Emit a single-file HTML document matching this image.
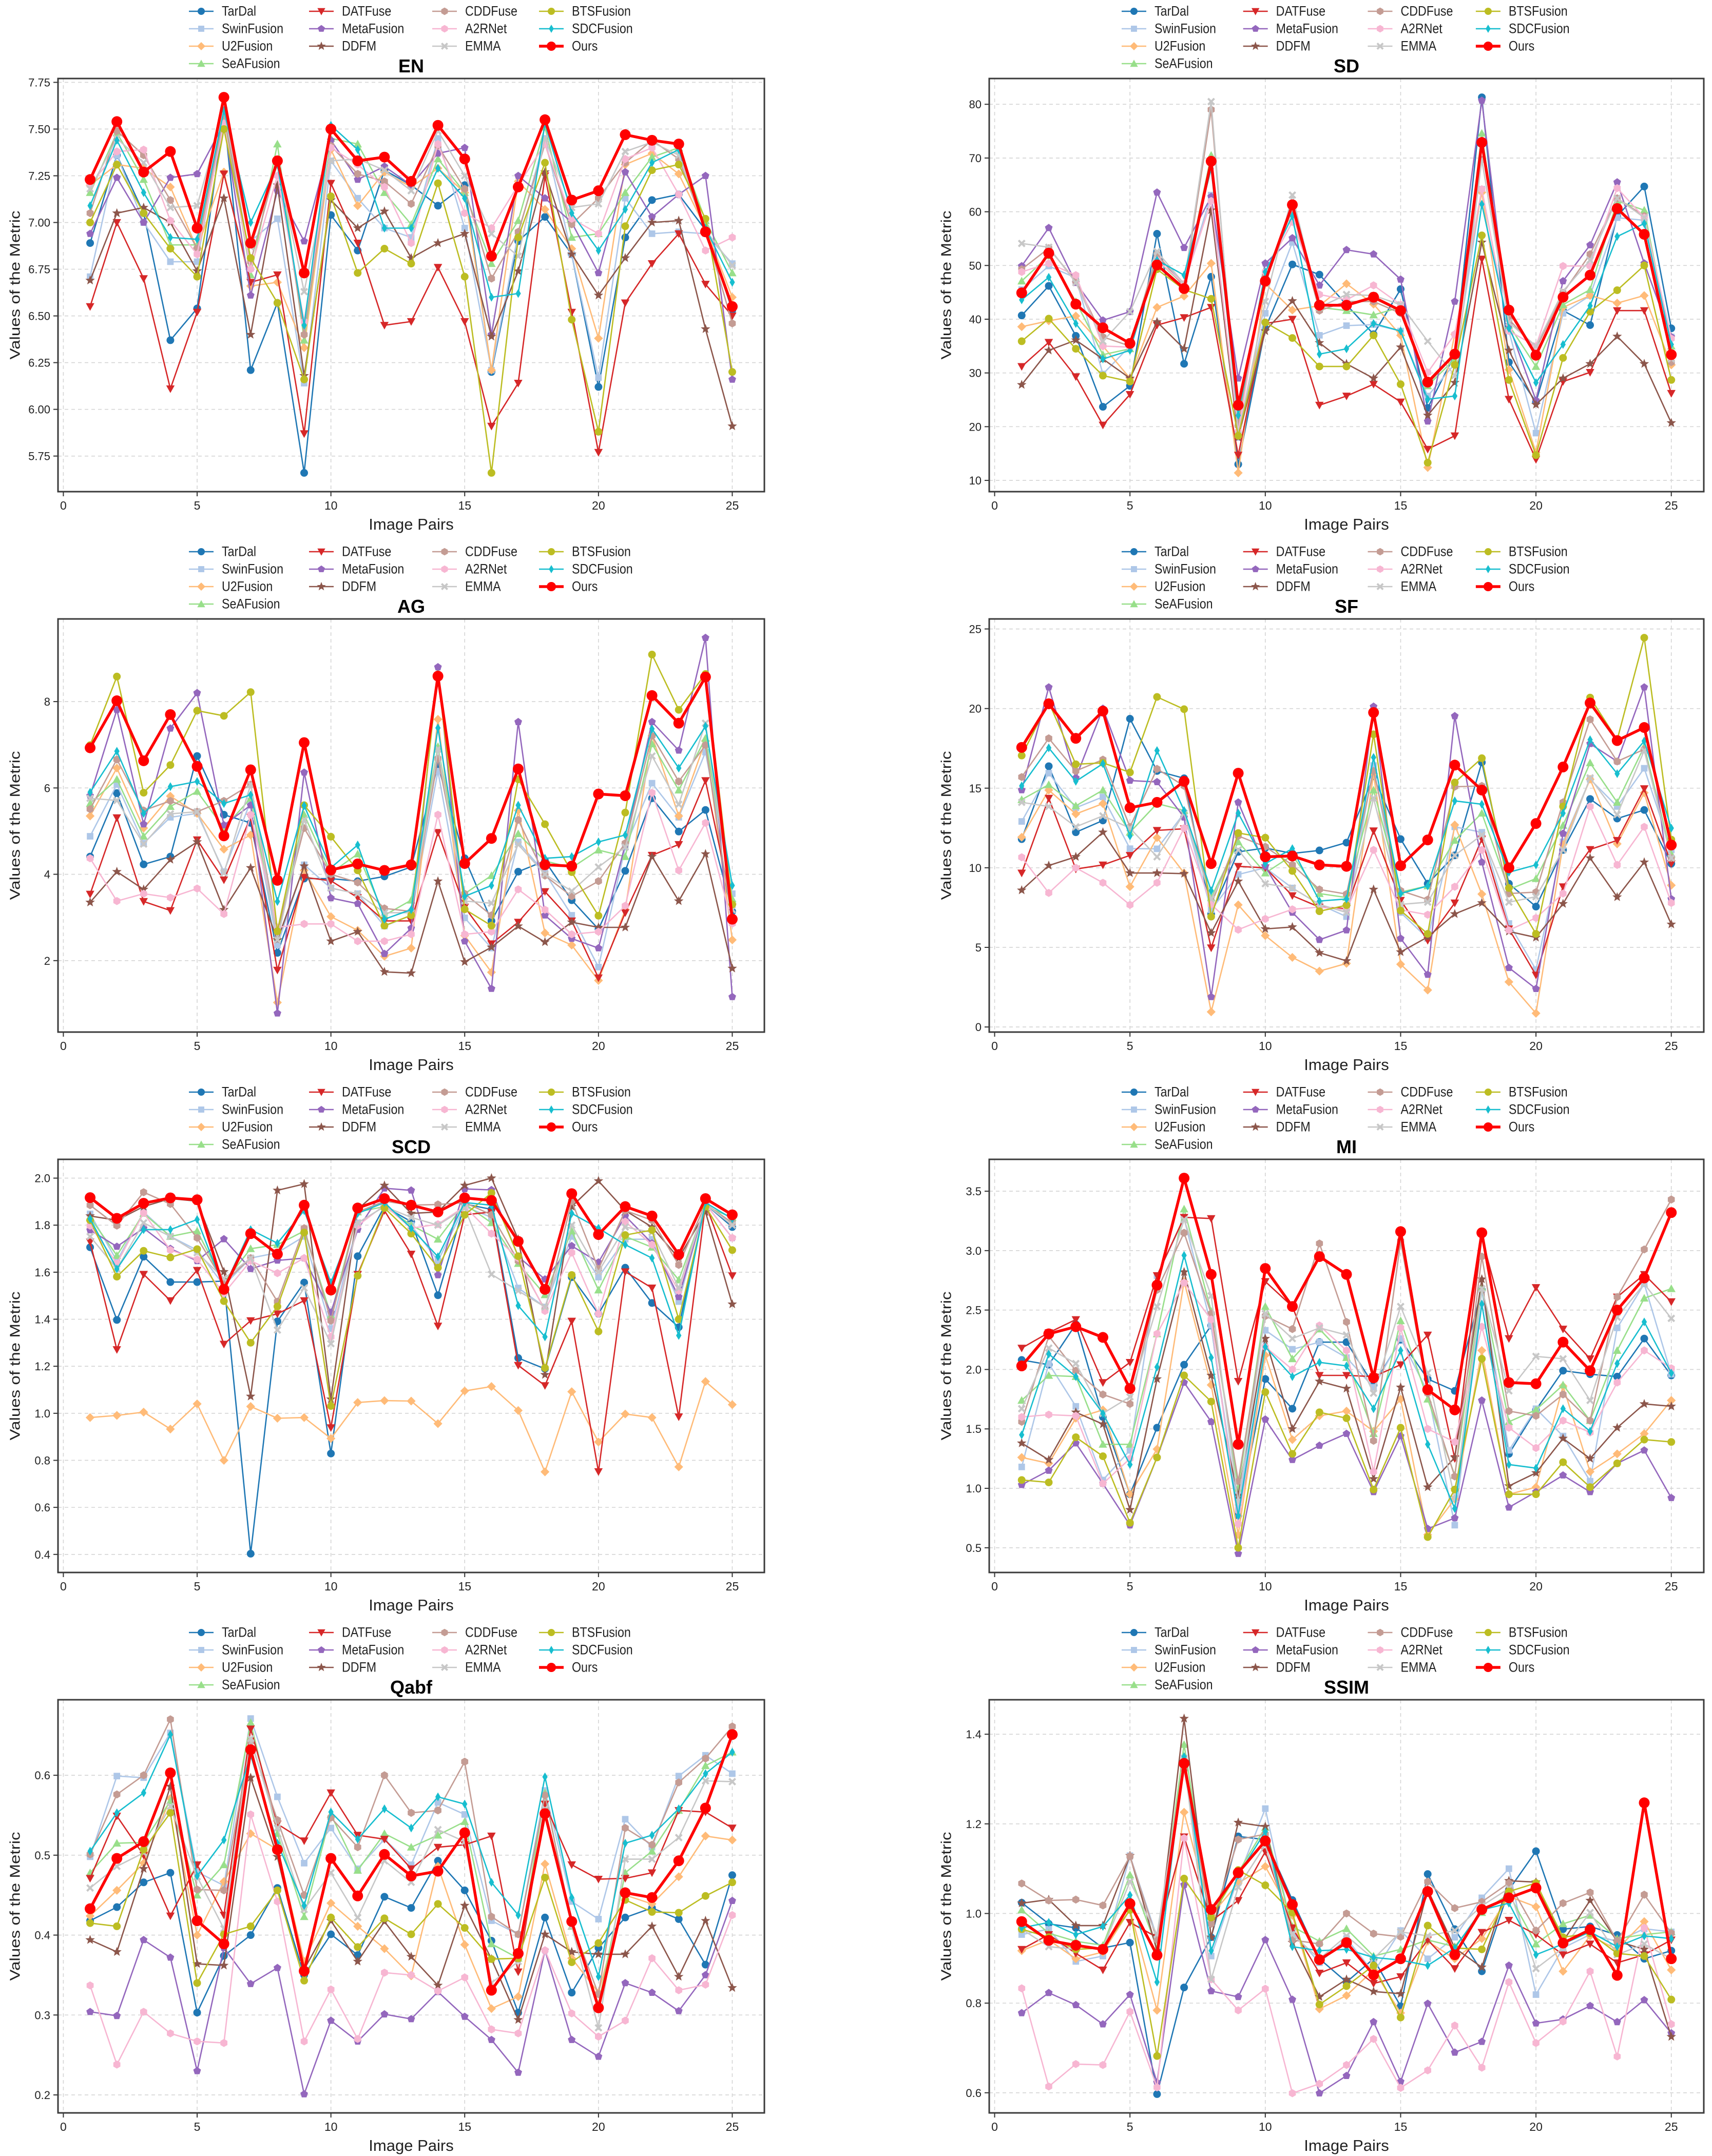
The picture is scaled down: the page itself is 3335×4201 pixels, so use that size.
<!DOCTYPE html>
<html><head><meta charset="utf-8"><title>Metric comparison</title>
<style>
html,body{margin:0;padding:0;background:#fff;}
svg{display:block;font-family:"Liberation Sans",sans-serif;}
</style></head>
<body>
<svg id="fig" width="3335" height="4201" viewBox="0 0 3335 4201" xmlns="http://www.w3.org/2000/svg">
<rect x="0" y="0" width="3335" height="4201" fill="#ffffff"/>
</svg>
<script>
const imagePairs = [1,2,3,4,5,6,7,8,9,10,11,12,13,14,15,16,17,18,19,20,21,22,23,24,25];
const methods = ['TarDal','SwinFusion','U2Fusion','SeAFusion','DATFuse','MetaFusion','DDFM','CDDFuse','A2RNet','EMMA','BTSFusion','SDCFusion','Ours'];
const xTicks = [0,5,10,15,20,25];

const enTicks = [5.75,6.00,6.25,6.50,6.75,7.00,7.25,7.50,7.75];
const enValues = [
[6.89,7.36,7.05,6.37,6.54,7.58,6.21,6.57,5.66,7.04,6.85,7.28,7.20,7.09,7.20,6.20,6.90,7.03,6.83,6.12,6.92,7.12,7.15,6.96,6.53],
[6.71,7.36,7.00,6.79,6.79,7.57,6.90,7.02,6.14,7.33,7.13,6.97,6.92,7.45,6.97,6.21,6.94,7.45,6.83,6.17,7.13,6.94,6.95,6.94,6.78],
[7.20,7.31,7.29,7.19,6.86,7.27,6.66,6.68,6.33,7.39,7.09,7.27,7.19,7.29,7.16,6.21,7.22,7.07,6.86,6.38,7.31,7.37,7.26,6.97,6.60],
[7.16,7.48,7.23,6.88,6.88,7.57,6.72,7.42,6.37,7.45,7.42,7.16,6.99,7.34,7.16,6.78,7.01,7.51,6.92,6.94,7.16,7.35,7.40,7.01,6.73],
[6.55,7.00,6.70,6.11,6.52,7.26,6.68,6.72,5.87,7.21,6.89,6.45,6.47,6.76,6.47,5.91,6.14,7.25,6.52,5.77,6.57,6.78,6.94,6.67,6.50],
[6.94,7.24,7.00,7.24,7.26,7.53,6.61,7.17,6.90,7.44,7.23,7.30,7.20,7.37,7.40,6.40,7.25,7.13,7.00,6.73,7.27,7.03,7.15,7.25,6.16],
[6.69,7.05,7.08,7.00,6.74,7.13,6.40,7.20,6.18,7.12,6.97,7.06,6.81,6.89,6.94,6.39,6.74,7.27,6.83,6.61,6.81,7.00,7.01,6.43,5.91],
[7.05,7.49,7.36,7.12,6.86,7.58,6.79,7.33,6.40,7.41,7.26,7.22,7.10,7.41,7.18,6.70,6.95,7.42,6.99,7.13,7.32,7.44,7.34,6.96,6.46],
[7.20,7.38,7.39,7.01,6.83,7.53,6.75,7.25,6.47,7.40,7.31,7.19,6.89,7.42,7.05,6.97,7.20,7.42,7.02,6.94,7.34,7.40,7.15,6.85,6.92],
[7.18,7.45,7.32,7.08,7.09,7.60,6.87,7.31,6.63,7.33,7.34,7.28,7.17,7.49,7.25,6.94,6.82,7.45,7.08,7.10,7.38,7.43,7.36,6.96,6.77],
[7.00,7.31,7.05,6.86,6.71,7.50,6.81,6.57,6.16,7.14,6.73,6.86,6.78,7.21,6.71,5.66,6.92,7.32,6.48,5.88,6.98,7.28,7.31,7.02,6.20],
[7.09,7.44,7.16,6.92,6.91,7.60,7.00,7.31,6.45,7.52,7.39,6.97,6.97,7.29,7.13,6.60,6.62,7.53,7.05,6.85,7.07,7.32,7.39,6.97,6.68],
[7.23,7.54,7.27,7.38,6.97,7.67,6.89,7.33,6.73,7.50,7.33,7.35,7.22,7.52,7.34,6.82,7.19,7.55,7.12,7.17,7.47,7.44,7.42,6.95,6.55]
];

const sdTicks = [10,20,30,40,50,60,70,80];
const sdValues = [
[40.7,46.2,36.9,23.7,27.6,55.9,31.7,47.9,13.0,38.3,50.2,48.3,42.7,37.2,45.6,23.5,33.4,81.3,32.0,24.6,41.6,38.9,59.2,64.7,38.3],
[45.5,49.9,47.7,29.8,35.0,51.8,46.6,63.1,18.0,41.1,54.3,37.0,38.8,39.0,37.8,25.7,31.7,64.2,37.8,18.8,41.1,44.4,58.9,58.4,36.7],
[38.6,39.7,40.6,35.0,29.0,42.2,44.3,50.4,11.4,46.6,41.7,42.5,46.6,42.8,37.0,12.4,37.2,63.6,30.6,15.2,42.2,44.4,43.0,44.4,31.5],
[47.1,51.8,43.3,33.4,34.5,51.0,46.3,70.5,20.7,48.2,60.3,42.2,41.6,40.8,42.2,27.6,32.6,74.6,38.9,31.2,42.7,45.5,62.0,60.3,35.0],
[31.2,35.7,29.3,20.3,26.0,38.9,40.3,42.2,14.7,39.2,40.0,24.0,25.7,27.9,24.6,15.8,18.3,51.2,25.1,13.9,28.4,30.1,41.6,41.6,26.2],
[49.9,57.0,46.8,39.8,41.4,63.6,53.3,62.8,29.0,50.4,55.1,46.3,52.9,52.1,47.4,21.0,43.3,80.7,38.9,24.9,47.1,53.8,65.5,50.4,36.7],
[27.8,34.2,36.1,32.6,29.0,39.5,34.5,60.3,18.0,37.8,43.4,35.6,31.7,29.0,34.8,22.1,28.2,54.3,34.2,24.1,29.0,31.7,36.8,31.7,20.7],
[49.3,53.2,47.1,36.7,35.0,52.1,46.0,79.0,20.2,48.2,60.3,41.6,43.3,43.3,41.1,27.9,33.4,69.7,40.0,34.5,44.9,52.1,62.5,59.2,32.0],
[48.8,50.4,48.2,35.0,34.8,51.0,46.6,62.0,19.1,48.8,58.1,44.6,43.6,46.3,42.7,30.1,37.2,64.2,37.8,35.0,49.9,49.9,64.4,58.9,36.4],
[54.1,53.4,46.8,35.9,41.4,52.6,46.6,80.5,18.5,43.3,63.1,42.2,44.6,44.4,42.7,35.9,29.5,69.7,39.4,35.0,45.2,51.0,62.5,58.9,32.6],
[35.9,40.1,34.5,29.5,28.4,49.3,45.5,43.8,18.3,39.4,36.5,31.2,31.2,37.0,27.9,13.3,31.5,55.6,28.7,14.7,32.8,41.4,45.4,50.0,28.7],
[43.6,47.8,39.2,32.6,34.2,51.0,48.2,68.0,22.1,48.8,59.2,33.5,34.5,39.2,37.8,25.1,25.7,61.4,38.3,28.2,35.3,42.5,55.4,57.8,35.3],
[44.9,52.3,42.8,38.4,35.5,50.1,45.7,69.4,24.0,47.1,61.3,42.6,42.6,44.1,41.6,28.3,33.5,72.9,41.7,33.3,44.1,48.2,60.6,55.8,33.4]
];

const agTicks = [2,4,6,8];
const agValues = [
[4.41,5.88,4.23,4.41,6.74,5.38,5.19,2.18,3.90,3.90,3.84,3.95,4.17,6.52,4.37,2.92,4.06,4.31,3.40,2.73,4.08,5.76,4.99,5.49,3.14],
[4.88,6.08,4.72,5.32,5.41,4.06,5.70,2.36,4.22,3.68,3.55,2.80,3.05,6.39,2.99,2.29,4.75,4.03,3.05,1.85,4.63,6.11,5.32,6.83,3.55],
[5.35,6.46,5.07,5.81,5.41,4.58,4.91,1.03,4.09,3.02,2.70,2.10,2.29,7.59,2.58,1.73,5.48,2.64,2.36,1.54,3.18,7.21,5.35,7.09,2.48],
[5.64,6.20,4.88,5.57,5.92,5.07,5.76,2.55,5.38,4.03,4.47,3.05,3.40,6.96,3.55,3.97,4.94,4.31,4.15,4.56,4.41,7.02,5.95,7.15,3.43],
[3.54,5.31,3.37,3.16,4.80,3.87,5.32,1.78,3.93,3.85,3.46,2.92,2.92,4.97,3.24,2.39,2.89,3.60,2.92,1.60,3.11,4.44,4.69,6.17,3.24],
[5.82,7.81,5.16,7.38,8.20,5.14,5.60,0.78,6.36,3.45,3.32,2.16,2.75,8.80,2.45,1.35,7.53,3.05,2.51,2.29,4.69,7.53,6.87,9.48,1.16],
[3.35,4.06,3.65,4.34,4.75,3.18,4.15,2.48,4.19,2.45,2.67,1.74,1.71,3.84,1.97,2.31,2.80,2.43,2.89,2.77,2.77,4.41,3.38,4.47,1.82],
[5.51,6.66,5.48,5.70,5.45,5.70,6.08,2.67,5.07,4.00,3.81,3.21,3.14,6.68,3.55,3.05,5.26,3.97,3.49,3.84,4.72,7.21,6.15,6.99,2.86],
[4.37,3.38,3.55,3.46,3.67,3.08,5.38,2.77,2.85,2.85,2.45,2.45,2.61,5.38,2.61,2.67,3.65,3.18,2.61,2.67,3.27,5.89,4.09,5.19,2.86],
[5.76,5.71,4.70,5.40,5.45,4.03,6.08,2.48,5.26,3.68,3.55,3.11,3.11,6.90,3.38,3.33,4.69,4.00,3.61,4.17,4.63,6.74,5.62,7.50,3.18],
[6.99,8.58,5.89,6.53,7.79,7.67,8.22,2.68,5.60,4.87,4.09,2.81,3.05,8.63,3.19,2.81,6.20,5.16,4.05,3.04,5.43,9.09,7.81,8.64,3.30],
[5.90,6.85,5.41,6.03,6.15,5.64,5.84,3.37,5.59,4.15,4.68,2.96,3.18,7.39,3.49,3.74,5.60,4.37,4.41,4.75,4.91,7.37,6.46,7.43,3.74],
[6.93,8.02,6.63,7.70,6.50,4.89,6.42,3.86,7.05,4.10,4.24,4.09,4.22,8.59,4.25,4.83,6.44,4.22,4.19,5.86,5.82,8.14,7.50,8.57,2.96]
];

const sfTicks = [0,5,10,15,20,25];
const sfValues = [
[11.8,16.38,12.23,12.97,19.36,16.08,15.62,7.10,11.0,11.24,10.9,11.09,11.58,15.74,11.8,9.0,10.78,16.62,9.0,7.56,11.12,14.32,13.09,13.63,10.26],
[12.91,15.94,13.77,14.45,11.2,11.19,13.43,7.36,9.58,10.0,8.73,7.7,6.93,16.42,7.19,5.56,12.57,12.23,6.5,3.6,11.63,15.56,13.85,16.25,11.12],
[11.92,14.88,13.38,14.03,8.81,11.89,9.67,0.95,7.67,5.74,4.37,3.51,3.99,15.91,3.94,2.32,12.69,8.35,2.83,0.86,11.46,15.56,11.5,14.71,8.9],
[14.28,15.22,13.89,14.88,12.23,14.03,13.6,8.13,11.63,9.67,10.78,8.38,8.13,14.88,8.47,8.86,11.72,13.43,8.64,9.32,12.66,16.59,14.11,17.62,10.86],
[9.67,14.37,9.92,10.18,10.78,12.35,12.45,4.97,10.09,10.0,8.25,7.53,7.44,12.32,7.96,5.44,7.79,11.8,6.16,3.26,8.81,11.15,11.72,14.97,10.26],
[14.88,21.34,15.65,20.0,15.48,15.39,13.17,1.89,14.11,10.09,7.19,5.48,6.08,20.13,5.56,3.29,19.53,10.35,3.72,2.40,12.15,17.79,16.68,21.34,8.04],
[8.59,10.14,10.69,12.23,9.67,9.67,9.63,5.91,9.15,6.16,6.28,4.66,4.15,8.64,4.71,5.65,7.1,7.79,6.0,5.62,7.74,10.61,8.16,10.35,6.45],
[15.7,18.13,16.08,16.79,12.57,16.21,15.14,7.7,12.0,11.32,10.18,8.64,8.35,16.08,8.56,8.0,15.09,15.14,8.38,8.47,14.11,19.32,16.68,17.44,10.61],
[10.66,8.42,10.0,9.06,7.67,9.06,12.49,7.7,6.11,6.79,7.39,7.53,7.36,11.12,7.36,7.05,8.81,11.12,6.08,6.85,8.38,13.85,10.18,12.57,7.79],
[14.11,13.85,12.57,13.26,12.49,10.69,13.43,8.04,11.12,9.0,8.73,7.7,7.19,14.37,7.7,7.84,10.78,12.06,7.84,8.18,11.12,15.65,13.34,17.36,10.61],
[17.05,20.4,16.5,16.59,15.99,20.73,19.96,6.93,12.18,11.89,9.8,7.27,7.65,18.38,7.31,5.85,15.36,16.88,8.73,5.85,13.85,20.69,18.04,24.45,11.77],
[15.14,17.53,15.43,16.54,12.0,17.36,13.6,8.56,13.43,10.26,11.2,7.91,8.04,16.93,8.38,8.86,14.2,13.99,9.72,10.18,13.43,18.04,15.91,17.96,12.49],
[17.56,20.30,18.13,19.84,13.77,14.11,15.43,10.26,15.94,10.69,10.74,10.18,10.09,19.75,10.13,11.75,16.45,14.88,10.0,12.78,16.33,20.35,17.99,18.81,11.43]
];

const scdTicks = [0.4,0.6,0.8,1.0,1.2,1.4,1.6,1.8,2.0];
const scdValues = [
[1.706,1.397,1.666,1.558,1.558,1.562,0.403,1.391,1.556,0.829,1.668,1.879,1.815,1.502,1.89,1.867,1.235,1.189,1.579,1.423,1.619,1.469,1.366,1.89,1.792],
[1.848,1.648,1.856,1.752,1.694,1.544,1.66,1.683,1.752,1.36,1.81,1.879,1.8,1.648,1.879,1.833,1.533,1.452,1.752,1.579,1.74,1.74,1.475,1.89,1.81],
[0.982,0.991,1.005,0.933,1.040,0.800,1.029,0.979,0.982,0.893,1.046,1.054,1.052,0.956,1.095,1.114,1.012,0.751,1.092,0.878,0.997,0.982,0.772,1.135,1.037],
[1.833,1.671,1.85,1.752,1.775,1.556,1.70,1.717,1.775,1.418,1.856,1.879,1.8,1.74,1.89,1.81,1.637,1.504,1.775,1.524,1.752,1.706,1.567,1.879,1.833],
[1.729,1.271,1.591,1.479,1.608,1.294,1.394,1.423,1.479,0.939,1.591,1.862,1.677,1.371,1.844,1.856,1.204,1.118,1.392,0.752,1.602,1.533,0.985,1.89,1.585],
[1.779,1.709,1.787,1.70,1.648,1.741,1.614,1.65,1.66,1.429,1.781,1.957,1.948,1.588,1.954,1.950,1.666,1.57,1.712,1.642,1.839,1.723,1.495,1.89,1.746],
[1.839,1.821,1.879,1.913,1.902,1.602,1.072,1.948,1.975,1.06,1.867,1.969,1.85,1.856,1.969,2.0,1.74,1.164,1.879,1.988,1.862,1.792,1.66,1.856,1.464],
[1.885,1.798,1.940,1.890,1.746,1.556,1.66,1.475,1.787,1.394,1.856,1.902,1.885,1.888,1.896,1.844,1.648,1.44,1.902,1.614,1.862,1.821,1.631,1.89,1.81],
[1.798,1.637,1.852,1.694,1.654,1.51,1.648,1.596,1.66,1.325,1.798,1.885,1.787,1.804,1.879,1.764,1.66,1.435,1.683,1.423,1.815,1.717,1.521,1.89,1.746],
[1.752,1.614,1.81,1.752,1.683,1.573,1.66,1.354,1.533,1.296,1.81,1.879,1.833,1.8,1.873,1.591,1.521,1.452,1.8,1.602,1.792,1.769,1.533,1.89,1.8],
[1.821,1.581,1.691,1.663,1.698,1.477,1.300,1.454,1.769,1.031,1.585,1.873,1.764,1.619,1.844,1.937,1.668,1.193,1.588,1.348,1.758,1.779,1.400,1.879,1.694],
[1.827,1.614,1.781,1.781,1.824,1.533,1.781,1.723,1.862,1.556,1.85,1.896,1.787,1.666,1.896,1.885,1.458,1.325,1.85,1.787,1.717,1.66,1.331,1.896,1.827],
[1.917,1.829,1.893,1.916,1.908,1.527,1.764,1.677,1.885,1.524,1.873,1.913,1.885,1.856,1.916,1.905,1.731,1.527,1.934,1.760,1.879,1.839,1.675,1.913,1.844]
];

const miTicks = [0.5,1.0,1.5,2.0,2.5,3.0,3.5];
const miValues = [
[2.08,2.04,2.38,1.60,0.95,1.51,2.04,2.37,0.77,1.92,1.67,2.23,2.23,1.87,2.25,1.92,1.82,2.67,1.29,1.66,1.99,1.96,1.94,2.26,1.95],
[1.18,2.05,1.69,1.07,1.32,2.79,3.27,2.37,0.82,2.33,2.17,2.23,2.10,1.85,2.26,1.81,0.69,2.67,1.32,1.67,1.44,1.06,2.35,2.72,1.96],
[1.26,1.21,1.59,1.66,0.95,1.33,2.74,1.87,0.61,2.12,1.41,1.61,1.65,1.48,1.75,0.61,0.91,2.16,0.95,1.01,1.86,1.14,1.29,1.46,1.74],
[1.74,1.95,1.94,1.37,1.37,2.30,3.35,2.49,1.00,2.53,2.09,2.34,2.10,1.46,2.41,1.75,1.11,2.69,1.56,1.66,1.87,1.57,2.16,2.60,2.68],
[2.18,2.31,2.42,1.89,2.06,2.79,3.28,3.27,1.90,2.74,2.53,1.95,1.95,1.94,2.04,2.29,1.25,3.11,2.26,2.69,2.34,2.09,2.61,2.80,2.57],
[1.03,1.15,1.38,1.04,0.69,1.26,1.89,1.56,0.45,1.58,1.24,1.36,1.46,0.97,1.44,0.66,0.75,1.74,0.84,0.97,1.11,0.97,1.21,1.32,0.92],
[1.38,1.24,1.64,1.54,0.82,1.92,2.82,1.95,0.94,2.26,1.50,1.90,1.84,1.08,1.85,1.01,1.26,2.76,1.02,1.13,1.42,1.25,1.51,1.71,1.69],
[1.56,2.28,1.99,1.79,1.71,2.67,3.15,2.47,1.06,2.45,2.34,3.06,2.40,1.40,3.08,1.80,1.10,2.95,1.65,1.61,1.79,1.57,2.61,3.01,3.43],
[1.60,1.62,1.61,1.04,1.25,2.30,2.73,2.42,0.70,2.19,2.00,2.37,2.16,1.14,2.35,1.50,1.39,2.36,1.51,1.34,1.57,1.47,1.89,2.16,2.01],
[1.67,2.18,2.05,1.63,1.77,2.53,3.26,2.62,0.88,2.47,2.26,2.35,2.29,1.80,2.53,1.97,0.91,2.68,1.82,2.11,2.09,1.74,2.44,2.72,2.43],
[1.07,1.05,1.43,1.27,0.71,1.26,1.95,1.73,0.50,1.81,1.29,1.64,1.59,0.99,1.51,0.59,0.99,2.09,0.95,0.95,1.22,1.01,1.21,1.41,1.39],
[1.45,2.13,1.94,1.63,1.20,2.02,2.96,2.10,0.77,2.19,1.94,2.06,2.03,1.67,2.16,1.37,0.83,2.55,1.20,1.17,1.67,1.48,2.05,2.40,1.97],
[2.03,2.30,2.36,2.27,1.84,2.71,3.61,2.80,1.37,2.85,2.53,2.95,2.80,1.93,3.16,1.83,1.66,3.15,1.89,1.88,2.23,1.99,2.50,2.77,3.32]
];

const qabfTicks = [0.2,0.3,0.4,0.5,0.6];
const qabfValues = [
[.418,.435,.466,.478,.303,.374,.400,.459,.350,.401,.375,.448,.434,.493,.456,.393,.303,.422,.328,.384,.422,.434,.420,.363,.475],
[.498,.599,.597,.653,.479,.462,.671,.573,.490,.534,.483,.520,.488,.566,.551,.418,.401,.581,.442,.420,.545,.510,.599,.625,.602],
[.424,.456,.490,.571,.400,.467,.527,.507,.367,.440,.411,.383,.349,.486,.388,.308,.323,.489,.371,.328,.450,.439,.473,.524,.519],
[.478,.515,.516,.568,.450,.488,.666,.527,.423,.551,.481,.527,.510,.525,.542,.389,.371,.578,.411,.313,.478,.505,.556,.612,.629],
[.471,.549,.500,.424,.488,.425,.658,.539,.518,.578,.525,.520,.483,.510,.513,.524,.354,.564,.488,.470,.471,.478,.556,.554,.534],
[.304,.299,.394,.372,.230,.384,.339,.359,.201,.293,.267,.301,.295,.329,.298,.269,.228,.381,.269,.248,.340,.328,.305,.350,.443],
[.394,.379,.483,.586,.364,.362,.597,.498,.357,.418,.367,.417,.373,.337,.437,.370,.294,.401,.379,.376,.376,.411,.348,.418,.334],
[.501,.576,.600,.670,.457,.456,.642,.544,.450,.547,.510,.600,.553,.556,.617,.423,.401,.575,.415,.326,.534,.513,.591,.621,.661],
[.337,.238,.304,.277,.267,.265,.551,.442,.267,.332,.270,.353,.350,.330,.347,.282,.277,.381,.302,.273,.293,.371,.331,.338,.425],
[.459,.486,.503,.561,.473,.408,.646,.534,.432,.478,.422,.493,.466,.532,.517,.340,.367,.558,.411,.284,.495,.495,.522,.593,.592],
[.415,.411,.507,.553,.340,.401,.411,.456,.343,.422,.385,.421,.401,.439,.409,.370,.371,.472,.366,.390,.444,.429,.428,.449,.466],
[.505,.553,.578,.651,.474,.519,.625,.515,.437,.554,.520,.558,.534,.573,.564,.466,.425,.598,.447,.348,.515,.525,.558,.602,.629],
[.433,.496,.517,.603,.418,.389,.632,.507,.355,.496,.449,.501,.474,.480,.528,.331,.377,.552,.417,.309,.453,.447,.493,.559,.651]
];

const ssimTicks = [0.6,0.8,1.0,1.2,1.4];
const ssimValues = [
[1.024,.977,.968,.923,.935,.597,.835,.947,1.172,1.165,1.030,.899,.847,.899,.793,1.088,.965,.871,1.053,1.139,.965,.971,.952,.899,.917],
[.953,.965,.893,.905,1.129,.947,1.347,.905,1.080,1.234,.959,.890,.944,.868,.962,.899,.947,1.035,1.100,.819,.923,.953,.938,.966,.959],
[.917,.941,.899,.914,1.008,.784,1.226,.996,1.068,1.105,.996,.787,.817,.874,.778,.938,.899,.944,1.038,1.015,.871,.950,.920,.982,.874],
[1.008,.956,.938,.929,1.086,.923,1.377,.993,1.092,1.192,.971,.938,.966,.905,.920,.941,.926,1.002,1.044,.932,.977,.996,.944,.953,.959],
[.920,.953,.911,.874,.980,.947,1.171,.983,1.029,1.138,.968,.867,.890,.844,.859,.941,.877,.958,.985,.953,.908,.932,.890,.908,.941],
[.778,.823,.796,.753,.819,.623,1.064,.827,.814,.941,.808,.599,.638,.758,.625,.799,.690,.714,.884,.755,.764,.794,.758,.807,.733],
[1.023,1.031,.973,.973,1.129,.917,1.435,.947,1.203,1.194,.935,.814,.853,.826,.821,1.053,.923,.880,1.073,1.070,.938,1.029,.938,.920,.725],
[1.067,1.029,1.031,1.018,1.128,.941,1.322,.977,1.165,1.177,.941,.932,1.0,.955,.948,1.071,1.012,1.026,1.068,.962,1.023,1.047,.938,1.042,.956],
[.833,.614,.664,.662,.781,.612,1.168,.853,.784,.832,.599,.620,.662,.720,.611,.650,.750,.656,.847,.711,.759,.871,.681,.968,.753],
[.965,.926,.920,.923,1.071,.953,1.341,.853,1.059,1.153,.953,.899,.950,.899,.959,.950,.962,1.017,1.056,.877,.923,1.002,.908,.932,.899],
[.965,.947,.920,.923,1.008,.682,1.078,.991,1.097,1.063,1.002,.797,.838,.884,.768,.973,.923,.920,1.049,1.068,.947,.956,.911,.905,.808],
[.968,.980,.953,.971,1.041,.847,1.350,.917,1.086,1.183,.926,.917,.920,.902,.896,.884,.923,1.008,1.023,.908,.932,.959,.926,.950,.944],
[.982,.940,.929,.920,1.022,.907,1.335,1.009,1.091,1.162,1.020,.897,.935,.863,.899,1.049,.908,1.009,1.035,1.057,.934,.964,.862,1.247,.899]
];

// ---- styles / layout (not data) ----
const colors = ['#1f77b4','#aec7e8','#ffbb78','#98df8a','#d62728','#9467bd','#8c564b','#c49c94','#f7b6d2','#c7c7c7','#bcbd22','#17becf','#ff0000'];
const markers = ['o','s','D','^','v','p','*','h','h','X','o','d','o'];
const panels = [
  {title:'EN', values:enValues, ticks:enTicks, dec:2, col:0, row:0},
  {title:'SD', values:sdValues, ticks:sdTicks, dec:0, col:1, row:0},
  {title:'AG', values:agValues, ticks:agTicks, dec:0, col:0, row:1},
  {title:'SF', values:sfValues, ticks:sfTicks, dec:0, col:1, row:1},
  {title:'SCD', values:scdValues, ticks:scdTicks, dec:1, col:0, row:2},
  {title:'MI', values:miValues, ticks:miTicks, dec:1, col:1, row:2},
  {title:'Qabf', values:qabfValues, ticks:qabfTicks, dec:1, col:0, row:3},
  {title:'SSIM', values:ssimValues, ticks:ssimTicks, dec:1, col:1, row:3}
];
const colLeft = [113, 1927];
const colWidth = [1376, 1392];
const rowTop0 = 153, rowPitch = 1053, axH = 805;

const NS = 'http://www.w3.org/2000/svg';
const svg = document.getElementById('fig');
function mk(tag, attrs, parent){
  const e = document.createElementNS(NS, tag);
  for (const k in attrs) e.setAttribute(k, attrs[k]);
  (parent||svg).appendChild(e);
  return e;
}
function markerShape(type, cx, cy, r, color, parent){
  let e;
  const pts = (arr)=>arr.map(p=>(cx+p[0]).toFixed(1)+','+(cy+p[1]).toFixed(1)).join(' ');
  if (type==='o'){ e = mk('circle',{cx:cx,cy:cy,r:r,fill:color},parent); }
  else if (type==='s'){ e = mk('rect',{x:cx-r*0.85,y:cy-r*0.85,width:r*1.7,height:r*1.7,fill:color},parent); }
  else if (type==='D'){ const a=r*1.15; e = mk('polygon',{points:pts([[0,-a],[a,0],[0,a],[-a,0]]),fill:color},parent); }
  else if (type==='d'){ const a=r*1.15; e = mk('polygon',{points:pts([[0,-a],[a*0.6,0],[0,a],[-a*0.6,0]]),fill:color},parent); }
  else if (type==='^'){ const a=r*1.1; e = mk('polygon',{points:pts([[0,-a],[a,a*0.8],[-a,a*0.8]]),fill:color},parent); }
  else if (type==='v'){ const a=r*1.1; e = mk('polygon',{points:pts([[0,a],[a,-a*0.8],[-a,-a*0.8]]),fill:color},parent); }
  else if (type==='p' || type==='h'){
    const n = type==='p'?5:6, a=r*1.05, arr=[];
    for(let k=0;k<n;k++){ const t=-Math.PI/2+k*2*Math.PI/n; arr.push([a*Math.cos(t),a*Math.sin(t)]); }
    e = mk('polygon',{points:pts(arr),fill:color},parent);
  }
  else if (type==='*'){
    const arr=[]; const a=r*1.3, b=r*0.55;
    for(let k=0;k<10;k++){ const t=-Math.PI/2+k*Math.PI/5; const rr=k%2?b:a; arr.push([rr*Math.cos(t),rr*Math.sin(t)]); }
    e = mk('polygon',{points:pts(arr),fill:color},parent);
  }
  else if (type==='X'){
    const a=r*1.0, w=r*0.38;
    e = mk('polygon',{points:pts([[-a,-a+w],[-a+w,-a],[0,-w],[a-w,-a],[a,-a+w],[w,0],[a,a-w],[a-w,a],[0,w],[-a+w,a],[-a,a-w],[-w,0]]),fill:color},parent);
  }
  return e;
}
function fmt(v, d){ return v.toFixed(d); }

panels.forEach(function(p){
  const L = colLeft[p.col], W = colWidth[p.col];
  const T = rowTop0 + p.row*rowPitch, H = axH;
  let mn = Infinity, mx = -Infinity;
  p.values.forEach(s=>s.forEach(v=>{ if(v<mn)mn=v; if(v>mx)mx=v; }));
  const pad = (mx-mn)*0.05, y0 = mn-pad, y1 = mx+pad;
  const xmin = 1-(25-1)*0.05, xmax = 25+(25-1)*0.05;
  const xs = v => L + (v-xmin)/(xmax-xmin)*W;
  const ys = v => T + (y1-v)/(y1-y0)*H;
  const key = p.title.toLowerCase();

  const g = mk('g',{});
  
  

  const grid = mk('g',{}, g);
  
  
  xTicks.forEach(function(t){
    const x = xs(t);
    const gl = mk('line',{x1:x,x2:x,y1:T,y2:T+H,stroke:'#d4d4d4','stroke-width':1.6,'stroke-dasharray':'7,6'}, grid);
    
    
    const tk = mk('line',{x1:x,x2:x,y1:T+H,y2:T+H+9,stroke:'#333','stroke-width':2}, g);
    
    
    const tl = mk('text',{x:x,y:T+H+35,'font-size':23,'text-anchor':'middle',fill:'#222'}, g);
    tl.textContent = String(t);
    
    
  });
  p.ticks.forEach(function(t){
    const y = ys(t);
    const gl = mk('line',{x1:L,x2:L+W,y1:y,y2:y,stroke:'#d4d4d4','stroke-width':1.6,'stroke-dasharray':'7,6'}, grid);
    
    
    const tk = mk('line',{x1:L-9,x2:L,y1:y,y2:y,stroke:'#333','stroke-width':2}, g);
    
    
    const tl = mk('text',{x:L-15,y:y+8,'font-size':22,'text-anchor':'end',fill:'#222'}, g);
    tl.textContent = fmt(t, p.dec);
    
    
  });

  p.values.forEach(function(series, si){
    const isOurs = si === methods.length-1;
    const sg = mk('g',{}, g);
    
    
    const d = series.map((v,i)=>(i?'L':'M')+xs(imagePairs[i]).toFixed(1)+','+ys(v).toFixed(1)).join(' ');
    const path = mk('path',{d:d,fill:'none',stroke:colors[si],'stroke-width':isOurs?5.5:2.6,'stroke-linejoin':'round'}, sg);
    
    
    series.forEach(function(v,i){
      const m = markerShape(markers[si], xs(imagePairs[i]), ys(v), isOurs?10.5:7.5, colors[si], sg);
      
      
    });
  });

  const frame = mk('rect',{x:L,y:T,width:W,height:H,fill:'none',stroke:'#3a3a3a','stroke-width':3}, g);
  
  

  const title = mk('text',{x:L+W/2,y:T-12,'font-size':36,'font-weight':'bold','text-anchor':'middle',fill:'#000'}, g);
  title.textContent = p.title;
  
  

  const xl = mk('text',{x:L+W/2,y:T+H+74,'font-size':31,'text-anchor':'middle',fill:'#222'}, g);
  xl.textContent = 'Image Pairs';
  
  

  const ylx = L-84, yly = T+H/2;
  const yl = mk('text',{x:0,y:0,'font-size':28,'text-anchor':'middle','dominant-baseline':'central',fill:'#222',transform:'translate('+ylx+','+yly+') rotate(-90)',textLength:290,lengthAdjust:'spacingAndGlyphs'}, g);
  yl.textContent = 'Values of the Metric';
  
  

  const lg = mk('g',{}, g);
  
  
  const colOff = [255, 489, 729, 937];
  const rowY = [-131, -97, -63, -29];
  const scale = W/1376;
  methods.forEach(function(name, mi){
    let c, r;
    if (mi < 4){ c=0; r=mi; } else if (mi < 7){ c=1; r=mi-4; } else if (mi < 10){ c=2; r=mi-7; } else { c=3; r=mi-10; }
    const lx = L + colOff[c]*scale, ly = T + rowY[r];
    const eg = mk('g',{}, lg);
    
    
    const isOurs = mi === methods.length-1;
    mk('line',{x1:lx,x2:lx+48,y1:ly,y2:ly,stroke:colors[mi],'stroke-width':isOurs?5.5:2.6}, eg);
    markerShape(markers[mi], lx+24, ly, isOurs?9:7, colors[mi], eg);
    const t = mk('text',{x:0,y:0,'font-size':27,fill:'#222','dominant-baseline':'central',transform:'translate('+(lx+64)+','+ly+') scale(0.86,1)'}, eg);
    t.textContent = name;
  });
});
</script>
</body></html>
